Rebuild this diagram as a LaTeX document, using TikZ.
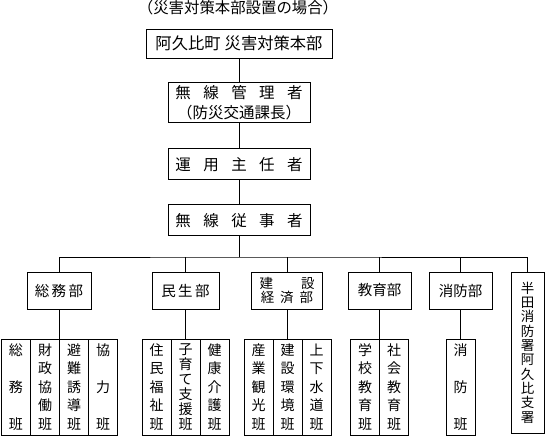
\documentclass[tikz,border=0pt]{standalone}
\usepackage{fontspec}
\setmainfont{Noto Sans CJK JP}
\usetikzlibrary{positioning}
\newcommand{\jsp}{\hspace{.8em}}

\begin{document}
\begin{tikzpicture}[x=1pt, y=-1pt, line width=.9pt,
    box/.style={draw, inner sep=0pt, align=center, minimum width=142, font=\fontsize{15.5}{20}\selectfont},
    dept/.style={draw, inner sep=0pt, align=center, minimum height=37, font=\fontsize{14.5}{14}\selectfont},
    cell/.style={draw, inner sep=0pt, align=center, minimum width=29, minimum height=96, font=\fontsize{14}{18.5}\selectfont}]
  \useasboundingbox (0,0) rectangle (545,436);

  \node[font=\fontsize{15.4}{18}\selectfont] (title) at (238,8) {（災害対策本部設置の場合）};
  \node[box, minimum width=186, minimum height=29, font=\fontsize{16.3}{18}\selectfont]
    (hq) at (239,43.5) {阿久比町\hspace{.25em}災害対策本部};
  \node[box, minimum height=40, below=24pt of hq]
    (mgr) {無\jsp 線\jsp 管\jsp 理\jsp 者\\（防災交通課長）};
  \node[box, minimum height=31, below=25pt of mgr] (op) {運\jsp 用\jsp 主\jsp 任\jsp 者};
  \node[box, minimum height=31, below=24pt of op] (eng) {無\jsp 線\jsp 従\jsp 事\jsp 者};
  \draw (hq) -- (mgr);
  \draw (mgr) -- (op);
  \draw (op) -- (eng);

  \coordinate (bus) at (239,257);
  \node[dept, minimum width=64] (soumu) at (59,290.5) {総\,務\,部};
  \node[dept, minimum width=67] (minsei) at (185.5,290.5) {民\,生\,部};
  \node[dept, minimum width=71, font=\fontsize{13.5}{14}\selectfont]
    (kensetsu) at (287,290.5) {建\hspace{28pt}設\\経\hspace{6pt}済\hspace{6pt}部};
  \node[dept, minimum width=63] (kyoiku) at (379.5,290.5) {教育部};
  \node[dept, minimum width=63] (shobo) at (460.5,290.5) {消防部};
  \node[draw, inner sep=0pt, align=center, minimum width=33, minimum height=161,
    font=\fontsize{13.5}{14.3}\selectfont]
    (handa) at (527.5,352.5) {半\\田\\消\\防\\署\\阿\\久\\比\\支\\署};
  \draw (soumu) |- (bus) -| (handa);
  \draw (eng) -- (bus);
  \draw (minsei) -- (minsei |- bus);
  \draw (kensetsu) -- (kensetsu |- bus);
  \draw (kyoiku) -- (kyoiku |- bus);
  \draw (shobo) -- (shobo |- bus);

  \node[cell] (s1) at (16,387) {総\\[18.5pt]務\\[18.5pt]班};
  \node[cell] (s2) at (45,387) {財\\政\\協\\働\\班};
  \node[cell] (s3) at (74,387) {避\\難\\誘\\導\\班};
  \node[cell] (s4) at (103,387) {協\\[18.5pt]力\\[18.5pt]班};
  \node[cell] (m1) at (156.5,387) {住\\民\\福\\祉\\班};
  \node[cell, font=\fontsize{14}{15}\selectfont] (m2) at (185.5,387) {子\\育\\て\\支\\援\\班};
  \node[cell] (m3) at (214.5,387) {健\\康\\介\\護\\班};
  \node[cell] (k1) at (258.5,387) {産\\業\\観\\光\\班};
  \node[cell] (k2) at (287.5,387) {建\\設\\環\\境\\班};
  \node[cell] (k3) at (316.5,387) {上\\下\\水\\道\\班};
  \node[cell] (e1) at (365,387) {学\\校\\教\\育\\班};
  \node[cell] (e2) at (394,387) {社\\会\\教\\育\\班};
  \node[cell] (f1) at (460.5,387) {消\\[18.5pt]防\\[18.5pt]班};
  \draw (soumu) -- (soumu |- s2.north);
  \draw (minsei) -- (m2);
  \draw (kensetsu) -- (kensetsu |- k2.north);
  \draw (kyoiku) -- (kyoiku |- e1.north);
  \draw (shobo) -- (f1);
\end{tikzpicture}
\end{document}
